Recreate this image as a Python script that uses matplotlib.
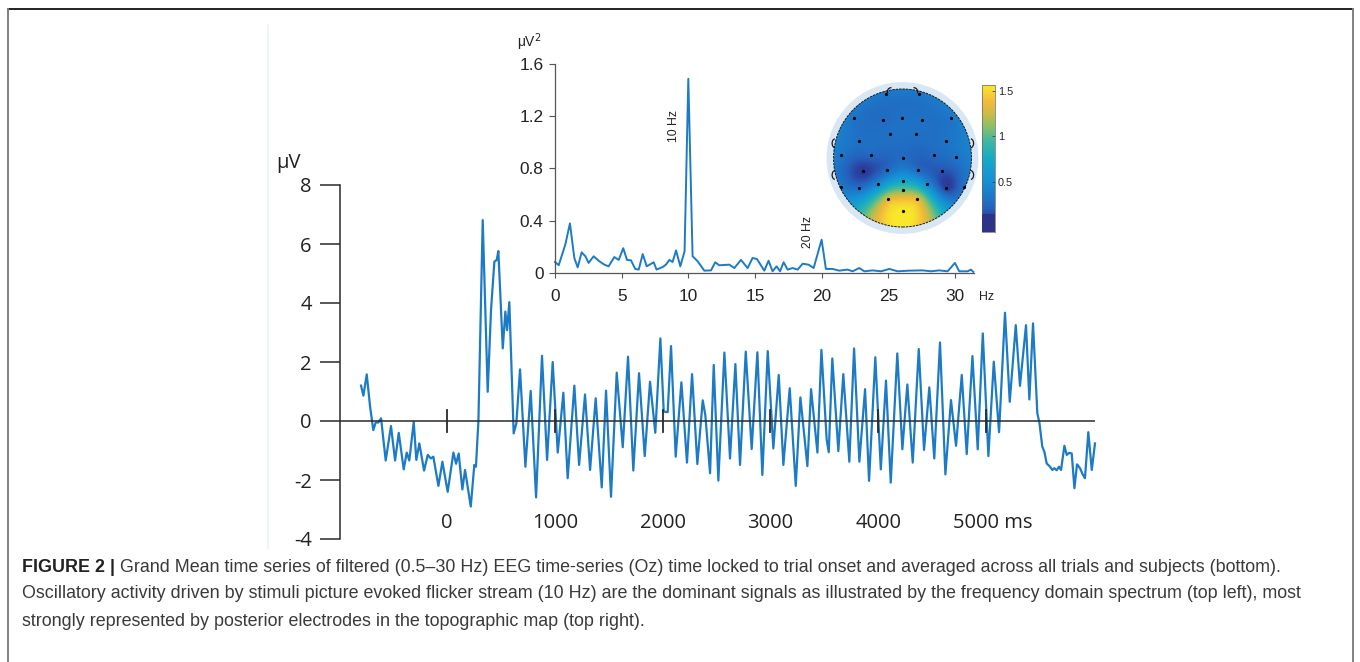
import numpy as np
import matplotlib
matplotlib.use("Agg")
import matplotlib.pyplot as plt
from matplotlib.colors import LinearSegmentedColormap, Normalize
from matplotlib.patches import Circle, Arc, Rectangle
from matplotlib.lines import Line2D

plt.rcParams['axes.unicode_minus'] = False

# ---------------- data ----------------
# Grand-mean time series (Oz), ms / µV (local extrema)
time_ms = [-798, -776, -745, -714, -684, -662, -637, -612, -569, -520, -482, -448, -402, -374, -350,
           -309, -285, -257, -213, -179, -151, -127, -80, -43, 6, 59, 84, 108, 142, 167, 220, 253,
           268, 291, 331, 377, 408, 439, 461, 476, 517, 541, 557, 578, 618, 643, 677, 727, 776, 826,
           881, 928, 980, 1027, 1079, 1119, 1181, 1225, 1280, 1327, 1379, 1435, 1475, 1521, 1574,
           1630, 1679, 1728, 1781, 1834, 1883, 1932, 1979, 2010, 2047, 2078, 2121, 2174, 2226, 2273,
           2322, 2372, 2396, 2440, 2474, 2517, 2573, 2625, 2675, 2718, 2771, 2826, 2879, 2925, 2975,
           3027, 3077, 3120, 3179, 3235, 3278, 3343, 3377, 3436, 3473, 3522, 3541, 3574, 3630, 3676,
           3732, 3776, 3825, 3878, 3915, 3973, 4024, 4072, 4116, 4177, 4224, 4270, 4320, 4376, 4425,
           4474, 4520, 4573, 4623, 4675, 4722, 4775, 4821, 4874, 4923, 4970, 5022, 5072, 5121, 5176,
           5220, 5276, 5315, 5371, 5402, 5436, 5476, 5495, 5522, 5541, 5563, 5594, 5615, 5634, 5656,
           5677, 5696, 5727, 5749, 5770, 5795, 5820, 5844, 5872, 5894, 5918, 5949, 5981, 6011]
amp_uv = [1.20, 0.86, 1.58, 0.49, -0.31, -0.05, -0.05, 0.09, -1.34, -0.17, -1.34, -0.40, -1.64, -1.07, -1.34,
          -0.03, -1.32, -0.76, -1.68, -1.15, -1.27, -1.21, -2.20, -1.38, -2.40, -1.07, -1.45, -1.10, -2.32, -1.66, -2.90, -1.49,
          -1.55, 0.00, 6.81, 0.99, 3.76, 5.40, 5.46, 5.76, 2.46, 3.71, 3.08, 4.03, -0.42, -0.08, 1.75, -1.55, 1.02, -2.59,
          2.21, -1.32, 2.00, -1.07, 0.96, -1.94, 1.20, -1.49, 0.90, -1.66, 0.77, -2.25, 1.03, -2.57, 1.64,
          -0.89, 2.18, -1.68, 1.62, -1.19, 1.33, -0.40, 2.80, 0.32, 0.30, 2.54, -1.21, 1.31, -1.41, 1.59,
          -1.46, 0.70, 0.20, -1.77, 1.90, -2.02, 2.32, -1.27, 1.93, -1.49, 2.35, -0.95, 2.33, -1.83, 2.37,
          -0.93, 1.56, -1.49, 1.11, -2.20, 0.80, -1.53, 1.08, -1.07, 2.41, -0.64, -1.06, 2.12, -1.02, 1.59,
          -1.38, 2.46, -1.38, 1.08, -2.03, 2.16, -1.64, 1.37, -2.09, 2.29, -0.96, 1.24, -1.41, 2.44, -0.98,
          1.14, -1.27, 2.66, -1.81, 0.71, -0.84, 1.56, -1.12, 2.20, -0.96, 2.97, -1.19, 2.01, -0.38, 3.67,
          0.65, 3.25, 1.19, 3.25, 0.73, 3.31, 0.26, -0.05, -0.87, -1.04, -1.44, -1.55, -1.66, -1.60, -1.67,
          -1.55, -1.66, -0.84, -1.15, -1.08, -1.10, -2.28, -1.47, -1.60, -1.79, -1.94, -0.38, -1.66, -0.76]

y_ticks = [-4, -2, 0, 2, 4, 6, 8]
y_tick_labels = ['-4', '-2', '0', '2', '4', '6', '8']
time_ticks = [0, 1000, 2000, 3000, 4000, 5000]
time_tick_labels = ['0', '1000', '2000', '3000', '4000', '5000 ms']

# Power spectrum (Hz / µV²)
freq_hz = [0.0, 0.28, 0.78, 1.12, 1.45, 1.7, 2.0, 2.28, 2.52, 2.9, 3.32, 3.7, 4.02, 4.45, 4.78, 5.12,
           5.4, 5.7, 6.02, 6.28, 6.58, 6.88, 7.4, 7.62, 8.08, 8.32, 8.58, 8.82, 9.08, 9.4, 9.72, 10.0,
           10.32, 10.7, 11.2, 11.7, 12.02, 12.32, 13.08, 13.45, 13.95, 14.45, 14.82, 15.15, 15.7, 16.02,
           16.32, 16.62, 16.88, 17.15, 17.45, 17.82, 18.2, 18.58, 19.02, 19.4, 20.0, 20.32, 20.82, 21.32,
           21.95, 22.32, 22.82, 23.2, 23.82, 24.45, 25.08, 25.7, 26.58, 27.58, 28.2, 28.82, 29.45, 30.0,
           30.32, 30.95, 31.2, 31.38]
power = [0.084, 0.06, 0.22, 0.38, 0.115, 0.043, 0.158, 0.128, 0.077, 0.128, 0.09, 0.064, 0.051, 0.122, 0.10, 0.19,
         0.10, 0.097, 0.031, 0.026, 0.145, 0.051, 0.082, 0.026, 0.046, 0.064, 0.10, 0.084, 0.173, 0.051, 0.166, 1.487,
         0.128, 0.09, 0.018, 0.02, 0.082, 0.059, 0.064, 0.038, 0.10, 0.038, 0.115, 0.107, 0.018, 0.094,
         0.013, 0.051, 0.013, 0.082, 0.026, 0.038, 0.026, 0.071, 0.064, 0.038, 0.255, 0.031, 0.031, 0.018,
         0.026, 0.013, 0.038, 0.013, 0.02, 0.013, 0.031, 0.013, 0.018, 0.02, 0.013, 0.02, 0.013, 0.077,
         0.013, 0.013, 0.026, 0.008]
spec_x_ticks = [0, 5, 10, 15, 20, 25, 30]
spec_y_ticks = [0, 0.4, 0.8, 1.2, 1.6]
spec_y_labels = ['0', '0.4', '0.8', '1.2', '1.6']

# Topographic map: electrode positions (head radius = 1) and 10 Hz power
elec_x = [-0.244, 0.239, -0.698, -0.287, -0.002, 0.287, 0.698, -0.181, 0.191, -0.626, 0.626,
          -0.896, -0.461, 0.0, 0.461, 0.775, -0.568, -0.229, 0.229, 0.568, 0.0,
          -0.896, -0.626, -0.360, 0.360, 0.630, 0.891, 0.0, -0.205, 0.215, 0.0]
elec_y = [0.928, 0.928, 0.575, 0.551, 0.575, 0.551, 0.575, 0.353, 0.353, 0.251, 0.251,
          0.043, 0.043, -0.005, 0.043, 0.019, -0.188, -0.169, -0.169, -0.184, -0.333,
          -0.425, -0.440, -0.377, -0.377, -0.440, -0.425, -0.464, -0.599, -0.599, -0.763]
elec_val = [0.33, 0.33, 0.31, 0.27, 0.30, 0.30, 0.33, 0.30, 0.30, 0.30, 0.31,
            0.33, 0.25, 0.27, 0.26, 0.32, 0.08, 0.25, 0.25, 0.17, 0.72,
            0.35, 0.30, 0.45, 0.45, 0.10, 0.32, 1.05, 1.32, 1.32, 1.56]
cbar_ticks = [0.5, 1, 1.5]
cbar_labels = ['0.5', '1', '1.5']
cmin, cmax = -0.05, 1.565

caption_bold = 'FIGURE 2 |'
caption_lines = [
    'Grand Mean time series of filtered (0.5\u201330 Hz) EEG time-series (Oz) time locked to trial onset and averaged across all trials and subjects (bottom).',
    'Oscillatory activity driven by stimuli picture evoked flicker stream (10 Hz) are the dominant signals as illustrated by the frequency domain spectrum (top left), most',
    'strongly represented by posterior electrodes in the topographic map (top right).',
]

# ---------------- style ----------------
LINE = '#1c7bc4'
AX = '#2a2a2a'
MAINFONT = 'Open Sans'
SPECFONT = 'Liberation Sans'
CAPFONT = 'Liberation Sans'
CAPSIZE = 12.9
parula_like = [(0.0, '#2c2d84'), (0.09, '#2b3d9c'), (0.155, '#2560bb'), (0.216, '#1f72c6'),
               (0.34, '#168fd7'), (0.495, '#15a9c9'), (0.62, '#3db99f'), (0.712, '#86c06c'),
               (0.805, '#cdbb45'), (0.885, '#f3b93b'), (1.0, '#f9e72b')]
cmap = LinearSegmentedColormap.from_list('parula_like', parula_like)

W, H, DPI = 1360, 662, 100
fig = plt.figure(figsize=(W / DPI, H / DPI), dpi=DPI)
fig.patch.set_facecolor('white')


def rect(x0, y0, x1, y1):
    return [x0 / W, 1 - y1 / H, (x1 - x0) / W, (y1 - y0) / H]


def fx(x):
    return x / W


def fy(y):
    return 1 - y / H


# frame
fig.add_artist(Line2D([fx(8), fx(1353)], [fy(9), fy(9)], color='#222222', lw=1.4))
fig.add_artist(Line2D([fx(8), fx(8)], [fy(9), fy(662)], color='#808080', lw=1.4))
fig.add_artist(Line2D([fx(1353), fx(1353)], [fy(9), fy(662)], color='#808080', lw=1.4))
fig.add_artist(Line2D([fx(268), fx(268)], [fy(25), fy(548)], color='#e8f3f9', lw=1.2))

# ---------------- main time series ----------------
ax = fig.add_axes(rect(340, 185, 1095, 539))
ax.patch.set_alpha(0)
ax.plot(time_ms, amp_uv, color=LINE, lw=1.6, solid_joinstyle='round', clip_on=False, zorder=2)
ax.set_xlim(-993, 6011)
ax.set_ylim(-4, 8)
for s in ['top', 'right', 'bottom']:
    ax.spines[s].set_visible(False)
ax.spines['left'].set_color(AX)
ax.spines['left'].set_linewidth(1.1)
ax.set_xticks([])
ax.set_yticks(y_ticks)
ax.set_yticklabels(y_tick_labels, fontfamily=MAINFONT, fontsize=14.5, color='#222222')
ax.tick_params(axis='y', length=14.4, width=1.1, pad=6, color=AX)
ax.axhline(0, color=AX, lw=1.1, zorder=3)
for t in time_ticks:
    ax.plot([t, t], [-0.36, 0.36], color=AX, lw=1.3, zorder=3)
for t, lab in zip(time_ticks, time_tick_labels):
    xt = t + (65 if lab.endswith('ms') else 0)
    ax.text(xt, -3.46, lab, ha='center', va='center', fontfamily=MAINFONT, fontsize=14.5, color='#222222')
fig.text(fx(288), fy(163), '\u03bcV', ha='center', va='center', fontfamily=MAINFONT, fontsize=14.5, color='#222222')

# ---------------- spectrum inset ----------------
ax2 = fig.add_axes(rect(555, 64, 973.6, 273))
ax2.patch.set_alpha(0)
ax2.plot(freq_hz, power, color=LINE, lw=1.4, clip_on=False)
ax2.set_xlim(0, 31.4)
ax2.set_ylim(0, 1.6)
for s in ['top', 'right']:
    ax2.spines[s].set_visible(False)
for s in ['left', 'bottom']:
    ax2.spines[s].set_color('#555555')
    ax2.spines[s].set_linewidth(0.9)
ax2.set_xticks(spec_x_ticks)
ax2.set_xticklabels([str(v) for v in spec_x_ticks], fontfamily=SPECFONT, fontsize=12.4, color='#222222')
ax2.set_yticks(spec_y_ticks)
ax2.set_yticklabels(spec_y_labels, fontfamily=SPECFONT, fontsize=12.4, color='#222222')
ax2.tick_params(axis='x', length=3.5, width=0.8, pad=8, color='#555555')
ax2.tick_params(axis='y', length=4.3, width=0.8, pad=4, color='#555555')
fig.text(fx(987), fy(297), 'Hz', ha='center', va='center', fontfamily=SPECFONT, fontsize=8.9, color='#222222')
fig.text(fx(529), fy(42), '\u03bcV$^2$', ha='center', va='center', fontfamily=SPECFONT, fontsize=10, color='#222222')
fig.text(fx(674), fy(126), '10 Hz', ha='center', va='center', rotation=90, fontfamily=SPECFONT, fontsize=8.8, color='#222222')
fig.text(fx(808), fy(232), '20 Hz', ha='center', va='center', rotation=90, fontfamily=SPECFONT, fontsize=8.8, color='#222222')

# ---------------- topographic map ----------------
ax3 = fig.add_axes(rect(822.5, 78, 982.5, 238))
lim = 80 / 69
ax3.set_xlim(-lim, lim)
ax3.set_ylim(-lim, lim)
ax3.set_aspect('equal')
ax3.axis('off')
ax3.add_patch(Circle((0, 0), 1.1, facecolor='#d9e7f5', edgecolor='none', zorder=0))

# biharmonic spline surface through the electrode values (as in EEGLAB topoplot / griddata 'v4')
ex, ey, ev = np.array(elec_x), np.array(elec_y), np.array(elec_val)


def green(dist):
    out = np.zeros_like(dist)
    m = dist > 0
    out[m] = dist[m] ** 2 * (np.log(dist[m]) - 1)
    return out


dmat = np.hypot(ex[:, None] - ex[None, :], ey[:, None] - ey[None, :])
wv = np.linalg.solve(green(dmat), ev)
gx, gy = np.meshgrid(np.linspace(-1, 1, 241), np.linspace(-1, 1, 241))
dg = np.hypot(gx[..., None] - ex, gy[..., None] - ey)
field = green(dg) @ wv
im = ax3.imshow(field, origin='lower', extent=(-1, 1, -1, 1), cmap=cmap,
                norm=Normalize(cmin, cmax), interpolation='bilinear', zorder=1)
clip = Circle((0, 0), 1.0, transform=ax3.transData)
im.set_clip_path(clip)
ax3.add_patch(Circle((0, 0), 1.0, fill=False, edgecolor='#1a1a1a', lw=0.7, ls=(0, (2.5, 1)), zorder=3))
ax3.plot(ex, ey, 'o', color='black', ms=1.3, zorder=4)
for ey0 in (0.213, -0.246):
    ax3.add_patch(Arc((-0.975, ey0), 0.09, 0.13, theta1=95, theta2=265, color='#1a1a1a', lw=0.9, zorder=4))
    ax3.add_patch(Arc((0.985, ey0), 0.09, 0.13, theta1=-85, theta2=85, color='#1a1a1a', lw=0.9, zorder=4))
ax3.add_patch(Arc((-0.16, 0.96), 0.12, 0.12, theta1=90, theta2=200, color='#1a1a1a', lw=0.9, zorder=4))
ax3.add_patch(Arc((0.16, 0.96), 0.12, 0.12, theta1=-20, theta2=90, color='#1a1a1a', lw=0.9, zorder=4))

cax = fig.add_axes(rect(982.3, 85, 995, 231.7))
cb = fig.colorbar(im, cax=cax)
cb.outline.set_linewidth(0.5)
cb.outline.set_edgecolor('#666666')
cax.add_patch(Rectangle((0, cmin), 1, 0.145 - cmin, facecolor='#2d3488', edgecolor='none', zorder=3))
cb.set_ticks(cbar_ticks)
cb.set_ticklabels(cbar_labels)
cax.tick_params(direction='in', length=2.5, width=0.5, pad=2, labelsize=7.8, color='#333333')
for lab in cax.get_yticklabels():
    lab.set_fontfamily(SPECFONT)
    lab.set_color('#222222')

# ---------------- caption ----------------
r = fig.canvas.get_renderer()
tb = fig.text(fx(22), fy(567), caption_bold, ha='left', va='center', fontfamily=CAPFONT,
              fontsize=CAPSIZE, fontweight='bold', color='#222222')
bb = tb.get_window_extent(r)
fig.text((bb.x1 + 5) / W, fy(567), caption_lines[0], ha='left', va='center', fontfamily=CAPFONT,
         fontsize=CAPSIZE, color='#3a3a3a')
fig.text(fx(22), fy(594), caption_lines[1], ha='left', va='center', fontfamily=CAPFONT,
         fontsize=CAPSIZE, color='#3a3a3a')
fig.text(fx(22), fy(621), caption_lines[2], ha='left', va='center', fontfamily=CAPFONT,
         fontsize=CAPSIZE, color='#3a3a3a')

fig.savefig('out.png', dpi=DPI, facecolor='white')
